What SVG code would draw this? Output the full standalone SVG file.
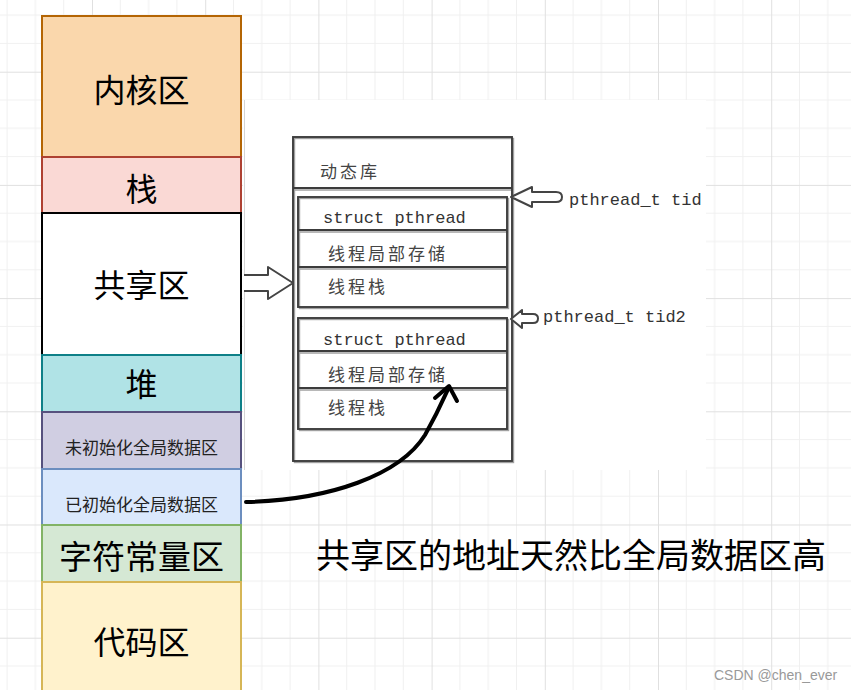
<svg xmlns="http://www.w3.org/2000/svg" width="851" height="690" viewBox="0 0 851 690">
<defs>
<pattern id="grid" patternUnits="userSpaceOnUse" x="92" y="71.7" width="113.2" height="113.2">
<path d="M28.3,0V113.2M56.6,0V113.2M84.9,0V113.2M0,28.3H113.2M0,56.6H113.2M0,84.9H113.2" stroke="#f0f0f0" stroke-width="1" fill="none"/>
<path d="M0.5,0V113.2M0,0.5H113.2" stroke="#e0e0e0" stroke-width="1" fill="none"/>
</pattern>
<style>
.seg{stroke-width:2}
.big{font-family:"Noto Sans CJK SC","Noto Sans",sans-serif;font-size:32px;fill:#000;text-anchor:middle}
.small{font-family:"Noto Sans CJK SC","Noto Sans",sans-serif;font-size:17px;fill:#222;text-anchor:middle}
.ska{fill:none;stroke:#a0a0a0;stroke-width:1.4}
.skb{fill:none;stroke:#3c3c3c;stroke-width:1.9}
.cn{font-family:"Noto Sans CJK SC","Noto Sans",sans-serif;font-size:17px;fill:#444;letter-spacing:3px}
.mono{font-family:"Liberation Mono","DejaVu Sans Mono",monospace;font-size:17px;fill:#333}
.harrow{fill:#fff;stroke:#444;stroke-width:2;stroke-linejoin:round}
</style>
</defs>
<rect width="851" height="690" fill="#fff"/>
<rect width="851" height="690" fill="url(#grid)"/>
<g id="screenshot-panel">
<rect x="243" y="100" width="463" height="370" fill="#fff"/>
<line x1="244.5" y1="100" x2="244.5" y2="470" stroke="#d4d4d4" stroke-width="1"/>
</g>
<g id="kernel"><rect class="seg" x="42" y="16" width="199" height="141" fill="#fad7ac" stroke="#b46504"/><text class="big" x="141.5" y="102">内核区</text></g>
<g id="stack"><rect class="seg" x="42" y="157" width="199" height="56" fill="#fad9d5" stroke="#ae4132"/><text class="big" x="141.5" y="201">栈</text></g>
<g id="shared"><rect class="seg" x="42" y="213" width="199" height="142" fill="#fff" stroke="#000"/><text class="big" x="141.5" y="297">共享区</text></g>
<g id="heap"><rect class="seg" x="42" y="355" width="199" height="57" fill="#b0e3e6" stroke="#0e8088"/><text class="big" x="141.5" y="396">堆</text></g>
<g id="bss"><rect class="seg" x="42" y="412" width="199" height="57" fill="#d0cee2" stroke="#56517e"/><text class="small" x="141.5" y="454">未初始化全局数据区</text></g>
<g id="data"><rect class="seg" x="42" y="469" width="199" height="56" fill="#dae8fc" stroke="#6c8ebf"/><text class="small" x="141.5" y="511">已初始化全局数据区</text></g>
<g id="rodata"><rect class="seg" x="42" y="525" width="199" height="57" fill="#d5e8d4" stroke="#82b366"/><text class="big" x="141.5" y="569" style="font-size:33px">字符常量区</text></g>
<g id="text-seg"><rect class="seg" x="42" y="582" width="199" height="120" fill="#fff2cc" stroke="#d6b656"/><text class="big" x="141.5" y="654">代码区</text></g>

<g id="dynlib">
<rect class="ska" x="294.5" y="138.5" width="219" height="324"/>
<line class="ska" x1="294" y1="190" x2="514" y2="190"/>
<rect class="skb" x="293" y="137" width="219" height="324"/>
<line class="skb" x1="293" y1="188" x2="512" y2="188"/>
<text class="cn" x="320" y="178">动态库</text>
</g>
<g id="thread1">
<rect class="ska" x="299.5" y="198.5" width="209" height="110"/>
<line class="ska" x1="299" y1="232" x2="509" y2="232"/>
<line class="ska" x1="299" y1="269" x2="509" y2="269"/>
<rect class="skb" x="298" y="197" width="209" height="110"/>
<line class="skb" x1="298" y1="230" x2="507" y2="230"/>
<line class="skb" x1="298" y1="267" x2="507" y2="267"/>
<text class="mono" x="323" y="223">struct pthread</text>
<text class="cn" x="328" y="260">线程局部存储</text>
<text class="cn" x="328" y="293">线程栈</text>
</g>
<g id="thread2">
<rect class="ska" x="299.5" y="319.5" width="209" height="111"/>
<line class="ska" x1="299" y1="353" x2="509" y2="353"/>
<line class="ska" x1="299" y1="390" x2="509" y2="390"/>
<rect class="skb" x="298" y="318" width="209" height="111"/>
<line class="skb" x1="298" y1="351" x2="507" y2="351"/>
<line class="skb" x1="298" y1="388" x2="507" y2="388"/>
<text class="mono" x="323" y="345">struct pthread</text>
<text class="cn" x="328" y="381">线程局部存储</text>
<text class="cn" x="328" y="414">线程栈</text>
</g>
<g id="tid-labels">
<text class="mono" x="569" y="205">pthread_t tid</text>
<text class="mono" x="543" y="322">pthread_t tid2</text>
</g>

<g id="connectors">
<path class="harrow" d="M244,275 L268,275 L268,267 L293,283 L268,299 L268,291 L244,291"/>
<path class="harrow" d="M511,197 L532,187 L532,192 L556,192 Q562,192 562,197 Q562,202 556,202 L532,202 L532,207 Z"/>
<path class="harrow" d="M511,319 L522,310 L522,314 L533,314 Q538,314 538,318.5 Q538,323 533,323 L522,323 L522,328 Z"/>
<path d="M246,502 C330,500 400,475 425,435 C438,412 444,398 449,387" fill="none" stroke="#000" stroke-width="4" stroke-linecap="round"/>
<path d="M435,398 L449,386 L457,401" fill="none" stroke="#000" stroke-width="4" stroke-linecap="round" stroke-linejoin="round"/>
</g>

<g id="note"><text x="316" y="568" style="font-family:'Noto Sans CJK SC','Noto Sans',sans-serif;font-size:34px;fill:#000">共享区的地址天然比全局数据区高</text></g>
<g id="watermark"><text x="714" y="680" style="font-family:'Liberation Sans',Arial,sans-serif;font-size:14px;fill:#999">CSDN @chen_ever</text></g>
</svg>
